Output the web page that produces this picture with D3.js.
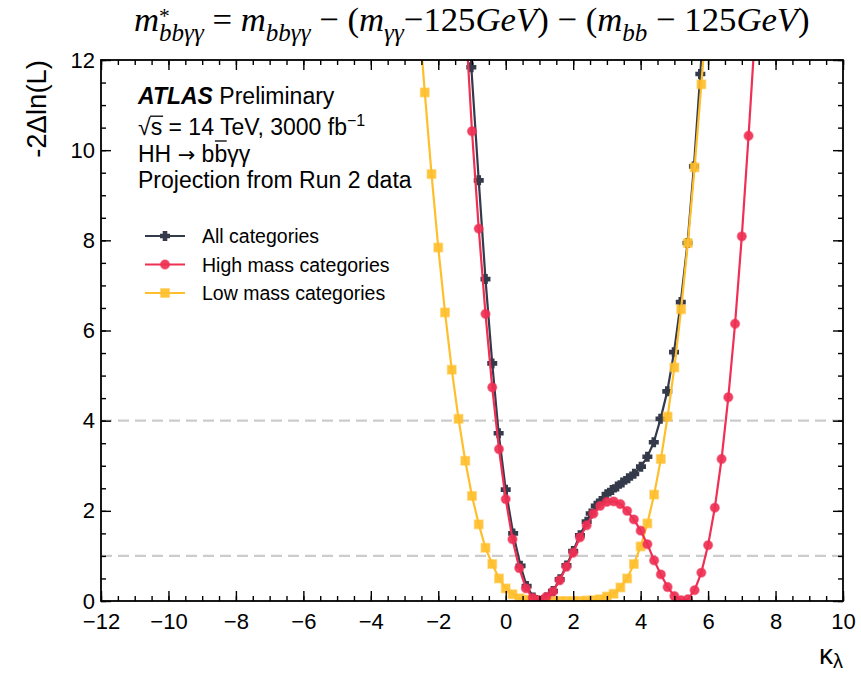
<!DOCTYPE html>
<html>
<head>
<meta charset="utf-8">
<script src="https://cdn.jsdelivr.net/npm/d3@7"></script>
<style>
  body { margin: 0; background: #fff; }
  svg { display: block; }
</style>
</head>
<body>
<svg id="chart" width="861" height="673"></svg>
<script>
// Likelihood scan in kappa_lambda: -2 Delta ln(L) for each category set
const allX = [-1.2, -1.02, -0.8, -0.6, -0.4, -0.21, 0.0, 0.22, 0.44, 0.62, 0.82, 1.0, 1.2, 1.4, 1.6, 1.8, 2.0, 2.2, 2.4, 2.52,
  2.67, 2.82, 2.99, 3.15, 3.30, 3.46, 3.63, 3.81, 4.01, 4.2, 4.39, 4.59, 4.79, 4.99, 5.19, 5.39, 5.58, 5.77, 5.95];
const allY = [14.6, 11.84, 9.33, 7.14, 5.27, 3.72, 2.47, 1.50, 0.78, 0.33, 0.08, 0.0, 0.08, 0.22, 0.48, 0.79, 1.11, 1.46, 1.76, 1.94,
  2.11, 2.22, 2.37, 2.46, 2.54, 2.63, 2.72, 2.82, 2.98, 3.20, 3.52, 4.04, 4.65, 5.52, 6.63, 7.94, 9.64, 11.69, 13.9];

const highX = [-1.2, -1.0, -0.8, -0.6, -0.4, -0.2, 0.0, 0.2, 0.4, 0.6, 0.8, 1.0, 1.2, 1.4, 1.6, 1.8, 2.0, 2.2, 2.4, 2.6,
  2.8, 3.0, 3.2, 3.4, 3.6, 3.8, 4.0, 4.2, 4.4, 4.6, 4.8, 5.0, 5.2, 5.4, 5.6, 5.8, 6.0, 6.2, 6.4, 6.6, 6.8, 7.0, 7.2, 7.4];
const highY = [13.0, 10.42, 8.26, 6.37, 4.74, 3.37, 2.26, 1.37, 0.73, 0.28, 0.07, 0.02, 0.09, 0.21, 0.46, 0.76, 1.07, 1.41, 1.68, 1.94,
  2.11, 2.20, 2.21, 2.15, 2.00, 1.81, 1.56, 1.26, 0.90, 0.59, 0.31, 0.11, 0.02, 0.04, 0.24, 0.63, 1.24, 2.07, 3.15, 4.52, 6.15, 8.09, 10.32, 12.7];

const lowX = [-2.6, -2.4, -2.2, -2.0, -1.8, -1.6, -1.4, -1.2, -1.0, -0.8, -0.6, -0.4, -0.2, 0.0, 0.2, 0.4, 0.6, 0.8, 1.0, 1.2, 1.4, 1.6,
  1.8, 2.0, 2.2, 2.4, 2.6, 2.8, 3.0, 3.2, 3.4, 3.6, 3.8, 4.0, 4.2, 4.4, 4.6, 4.8, 5.0, 5.2, 5.4, 5.6, 5.8, 6.0];
const lowY = [13.2, 11.28, 9.47, 7.84, 6.40, 5.13, 4.04, 3.11, 2.33, 1.70, 1.18, 0.82, 0.50, 0.28, 0.15, 0.06, 0.03, 0.01, 0.0, 0.0, 0.0, 0.0,
  0.0, 0.0, 0.0, 0.01, 0.02, 0.04, 0.10, 0.16, 0.30, 0.50, 0.82, 1.21, 1.72, 2.36, 3.15, 4.09, 5.18, 6.47, 7.94, 9.62, 11.46, 13.4];

const xTicks = [-12, -10, -8, -6, -4, -2, 0, 2, 4, 6, 8, 10];
const yTicks = [0, 2, 4, 6, 8, 10, 12];
const refLevels = [1, 4];
const legendLabels = ["All categories", "High mass categories", "Low mass categories"];

const SANS = "Liberation Sans, Arial, Helvetica, sans-serif";
const SERIF = "Liberation Serif, Times New Roman, serif";

const svg = d3.select("#chart");
const L = 101, R = 843, T = 60, B = 601;
const x = d3.scaleLinear().domain([-12, 10]).range([L, R]);
const y = d3.scaleLinear().domain([0, 12]).range([B, T]);

// series styling
const series = [
  { xs: allX, ys: allY, color: "#353a4b", marker: "cross" },
  { xs: highX, ys: highY, color: "#ef2f54", marker: "circle" },
  { xs: lowX, ys: lowY, color: "#ffbf2c", marker: "square" }
];

// thick plus-shaped marker
const thickCross = {
  draw(ctx, size) {
    const r = Math.sqrt(size) / 2, w = r * 0.46;
    ctx.moveTo(-r, -w); ctx.lineTo(-w, -w); ctx.lineTo(-w, -r); ctx.lineTo(w, -r);
    ctx.lineTo(w, -w); ctx.lineTo(r, -w); ctx.lineTo(r, w); ctx.lineTo(w, w);
    ctx.lineTo(w, r); ctx.lineTo(-w, r); ctx.lineTo(-w, w); ctx.lineTo(-r, w);
    ctx.closePath();
  }
};

function drawMarker(g, kind, color, cx, cy) {
  if (kind === "cross") {
    g.append("path").attr("d", d3.symbol().type(thickCross).size(100)())
      .attr("transform", `translate(${cx},${cy})`).attr("fill", color);
  } else if (kind === "circle") {
    g.append("circle").attr("cx", cx).attr("cy", cy).attr("r", 4.4)
      .attr("fill", color).attr("fill-opacity", 0.92)
      .attr("stroke", color).attr("stroke-opacity", 0.5).attr("stroke-width", 1.6);
  } else {
    g.append("rect").attr("x", cx - 4.2).attr("y", cy - 4.2).attr("width", 8.4).attr("height", 8.4)
      .attr("fill", color).attr("fill-opacity", 0.92)
      .attr("stroke", color).attr("stroke-opacity", 0.5).attr("stroke-width", 1.6);
  }
}

// clip region for the plot frame
svg.append("defs").append("clipPath").attr("id", "plotClip")
  .append("rect").attr("x", L).attr("y", T).attr("width", R - L).attr("height", B - T);

// reference levels (68% / 95%)
svg.append("g").selectAll("line").data(refLevels).join("line")
  .attr("x1", L).attr("x2", R).attr("y1", d => y(d)).attr("y2", d => y(d))
  .attr("stroke", "#cccccc").attr("stroke-width", 2.3).attr("stroke-dasharray", "11,6");

// curves: black first, then yellow, then red on top
const plot = svg.append("g").attr("clip-path", "url(#plotClip)");
const line = d3.line().x(d => x(d[0])).y(d => y(d[1]));
[series[0], series[2], series[1]].forEach(s => {
  const pts = s.xs.map((v, i) => [v, s.ys[i]]);
  const g = plot.append("g");
  g.append("path").datum(pts).attr("d", line).attr("fill", "none")
    .attr("stroke", s.color).attr("stroke-width", 2.2).attr("stroke-linejoin", "round");
  pts.forEach(p => drawMarker(g, s.marker, s.color, x(p[0]), y(p[1])));
});

// axes with inward ticks on all four sides
function styleAxis(g) {
  g.select(".domain").remove();
  g.selectAll(".tick line").attr("stroke", "#000").attr("stroke-width", 1.4);
  g.attr("font-family", SANS).attr("font-size", 22);
  g.selectAll(".tick text").attr("fill", "#000");
}
const xMinor = d3.range(-12, 10.001, 0.5);
const yMinor = d3.range(0, 12.001, 0.5);

svg.append("g").attr("transform", `translate(0,${B})`)
  .call(d3.axisBottom(x).tickValues(xMinor).tickSize(-5).tickFormat("")).call(styleAxis);
svg.append("g").attr("transform", `translate(0,${B})`)
  .call(d3.axisBottom(x).tickValues(xTicks).tickSize(-10).tickPadding(12)).call(styleAxis);
svg.append("g").attr("transform", `translate(0,${T})`)
  .call(d3.axisTop(x).tickValues(xMinor).tickSize(-5).tickFormat("")).call(styleAxis);
svg.append("g").attr("transform", `translate(0,${T})`)
  .call(d3.axisTop(x).tickValues(xTicks).tickSize(-10).tickFormat("")).call(styleAxis);

svg.append("g").attr("transform", `translate(${L},0)`)
  .call(d3.axisLeft(y).tickValues(yMinor).tickSize(-5).tickFormat("")).call(styleAxis);
svg.append("g").attr("transform", `translate(${L},0)`)
  .call(d3.axisLeft(y).tickValues(yTicks).tickSize(-10).tickPadding(6)).call(styleAxis);
svg.append("g").attr("transform", `translate(${R},0)`)
  .call(d3.axisRight(y).tickValues(yMinor).tickSize(-5).tickFormat("")).call(styleAxis);
svg.append("g").attr("transform", `translate(${R},0)`)
  .call(d3.axisRight(y).tickValues(yTicks).tickSize(-10).tickFormat("")).call(styleAxis);

// frame
svg.append("rect").attr("x", L).attr("y", T).attr("width", R - L).attr("height", B - T)
  .attr("fill", "none").attr("stroke", "#000").attr("stroke-width", 1.8);

// axis titles
svg.append("text").attr("transform", `translate(46,${T}) rotate(-90)`)
  .attr("text-anchor", "end").attr("font-family", SANS).attr("font-size", 27.5)
  .text("-2\u0394ln(L)");

const xt = svg.append("text").attr("x", R).attr("y", 664).attr("text-anchor", "end")
  .attr("font-family", SANS).attr("font-size", 28);
xt.append("tspan").text("\u03ba");
xt.append("tspan").text("\u03bb").attr("font-size", 20).attr("dy", 4);

// labels block
const txt = svg.append("g").attr("font-family", SANS).attr("font-size", 23).attr("fill", "#000");
const l1 = txt.append("text").attr("x", 138).attr("y", 104);
l1.append("tspan").text("ATLAS").attr("font-weight", "bold").attr("font-style", "italic");
l1.append("tspan").text(" Preliminary");

const l2 = txt.append("text").attr("x", 138).attr("y", 135);
const rad = l2.append("tspan").text("\u221a");
const sChar = l2.append("tspan").text("s");
l2.append("tspan").text(" = 14 TeV, 3000 fb");
l2.append("tspan").text("\u22121").attr("font-size", 16).attr("dy", -9);
{
  const bb = sChar.node().getBBox();
  const rb = rad.node().getBBox();
  txt.append("line").attr("x1", rb.x + rb.width - 1).attr("x2", bb.x + bb.width + 1)
    .attr("y1", rb.y + 2.2).attr("y2", rb.y + 2.2).attr("stroke", "#000").attr("stroke-width", 1.3);
}

const l3 = txt.append("text").attr("x", 138).attr("y", 162);
l3.append("tspan").text("HH ");
l3.append("tspan").text("\u2192").attr("font-family", "DejaVu Sans, sans-serif").attr("font-size", 21);
l3.append("tspan").text(" b");
const bBar = l3.append("tspan").text("b");
l3.append("tspan").text("\u03b3\u03b3");
{
  const bb = bBar.node().getBBox();
  txt.append("line").attr("x1", bb.x + 0.5).attr("x2", bb.x + bb.width - 0.5)
    .attr("y1", 162 - 21).attr("y2", 162 - 21).attr("stroke", "#000").attr("stroke-width", 1.3);
}

txt.append("text").attr("x", 138).attr("y", 188).text("Projection from Run 2 data");

// legend
const leg = svg.append("g").attr("font-family", SANS).attr("font-size", 19.5);
series.forEach((s, i) => {
  const cy = 236 + i * 28.5;
  leg.append("line").attr("x1", 145).attr("x2", 185).attr("y1", cy).attr("y2", cy)
    .attr("stroke", s.color).attr("stroke-width", 2.2);
  drawMarker(leg, s.marker, s.color, 165, cy);
  leg.append("text").attr("x", 202).attr("y", cy + 7).text(legendLabels[i]);
});

// title formula, sized to span the header width
function buildTitle(fs) {
  svg.select("#title").remove();
  const t = svg.append("text").attr("id", "title").attr("x", 134).attr("y", 31)
    .attr("font-family", SERIF).attr("font-style", "italic").attr("font-size", fs);
  let cur = 0;
  const add = (s, off, scale, upright, dx) => {
    const sp = t.append("tspan").text(s).attr("dy", (off - cur) * fs).attr("font-size", fs * scale);
    if (upright) sp.attr("font-style", "normal");
    if (dx) sp.attr("dx", dx);
    cur = off;
    return sp;
  };
  add("m", 0, 1);
  const star = add("*", -0.22, 0.62, true);
  add("bb\u03b3\u03b3", 0.3, 0.72, false, -star.node().getComputedTextLength());
  add(" = ", 0, 1, true);
  add("m", 0, 1);
  add("bb\u03b3\u03b3", 0.3, 0.72);
  add(" \u2212 (", 0, 1, true);
  add("m", 0, 1);
  add("\u03b3\u03b3", 0.3, 0.72);
  add("\u2212125", 0, 1, true);
  add("GeV", 0, 1);
  add(") \u2212 (", 0, 1, true);
  add("m", 0, 1);
  add("bb", 0.3, 0.72);
  add(" \u2212 125", 0, 1, true);
  add("GeV", 0, 1);
  add(")", 0, 1, true);
  return t;
}
let tEl = buildTitle(30);
const w0 = tEl.node().getBBox().width;
buildTitle(30 * 676 / w0);
</script>
</body>
</html>
